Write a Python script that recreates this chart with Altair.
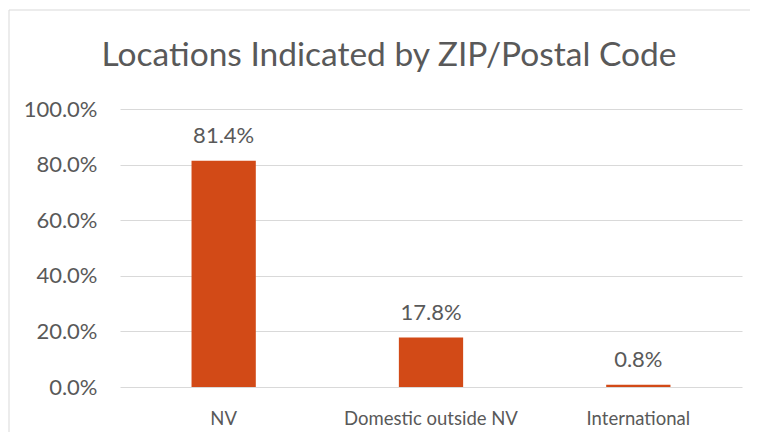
import altair as alt
import pandas as pd

categories = ["NV", "Domestic outside NV", "International"]
shares = [0.814, 0.178, 0.008]
y_ticks = [0.0, 0.2, 0.4, 0.6, 0.8, 1.0]
title_text = "Locations Indicated by ZIP/Postal Code"

df = pd.DataFrame({"location": categories, "share": shares})

TEXT = "#595959"
GRID = "#D9D9D9"
BAR = "#D24A17"
FONT = "Lato"

x = alt.X(
    "location:N", sort=categories, title=None,
    scale=alt.Scale(paddingInner=0.69, paddingOuter=0.345),
    axis=alt.Axis(labelAngle=0, ticks=False, domain=False, grid=False, labelLimit=400,
                  labelPadding=22, labelFontSize=18.5, labelColor=TEXT, labelFont=FONT),
)
y = alt.Y(
    "share:Q", title=None, scale=alt.Scale(domain=[0, 1]),
    axis=alt.Axis(values=y_ticks, format=".1%", ticks=False, domain=False,
                  labelPadding=23, gridColor=GRID, labelFontSize=22,
                  labelColor=TEXT, labelFont=FONT),
)

base = alt.Chart(df)
bars = base.mark_bar(color=BAR).encode(x=x, y=y)
labels = base.mark_text(dy=-18, baseline="alphabetic", fontSize=22, color=TEXT, font=FONT).encode(
    x=alt.X("location:N", sort=categories),
    y=alt.Y("share:Q"),
    text=alt.Text("share:Q", format=".1%"),
)
one = pd.DataFrame({"a": [0]})
border_top = alt.Chart(one).mark_rule(color=GRID, strokeWidth=1).encode(
    x=alt.value(-111), x2=alt.value(640), y=alt.value(-99)
)
border_left = alt.Chart(one).mark_rule(color=GRID, strokeWidth=1).encode(
    x=alt.value(-111), y=alt.value(-99), y2=alt.value(400)
)

chart = alt.layer(border_top, border_left, bars, labels).properties(
    width=622,
    height=278,
    autosize="none",
    padding={"left": 112, "top": 101, "right": 8, "bottom": 45},
    title=alt.TitleParams(title_text, fontSize=33.5, font=FONT, color=TEXT,
                          fontWeight="normal", anchor="middle", frame="group",
                          baseline="alphabetic", dx=-42, offset=-90),
).configure_view(strokeWidth=0)

chart.save("out.html", embed_options={"renderer": "svg", "actions": False})
